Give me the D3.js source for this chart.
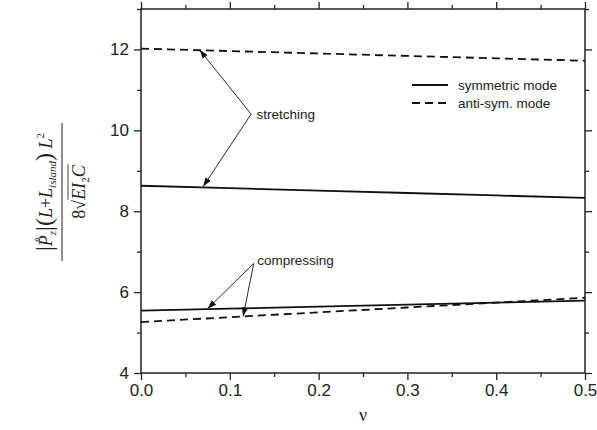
<!DOCTYPE html>
<html>
<head>
<meta charset="utf-8">
<script src="https://cdn.jsdelivr.net/npm/d3@7"></script>
<style>
  body { margin: 0; background: #fff; }
  text { font-family: "Liberation Sans", Arial, sans-serif; fill: #222; }
</style>
</head>
<body>
<div class="chart"></div>
<script>
// data
var nu = [0, 0.1, 0.2, 0.3, 0.4, 0.5];
var symStretch   = [8.63, 8.57, 8.51, 8.45, 8.39, 8.33];
var antiStretch  = [12.02, 11.96, 11.90, 11.84, 11.78, 11.72];
var symCompress  = [5.54, 5.59, 5.64, 5.69, 5.74, 5.79];
var antiCompress = [5.26, 5.38, 5.50, 5.62, 5.74, 5.86];

var xTicks = [0, 0.1, 0.2, 0.3, 0.4, 0.5];
var xMinor = [0.05, 0.15, 0.25, 0.35, 0.45];
var yTicks = [4, 6, 8, 10, 12];
var yMinor = [5, 7, 9, 11, 13];

var legendLabels = ["symmetric mode", "anti-sym. mode"];

// annotation anchors in data units: label position, arrow tips
var stretchLabel = {x: 0.130, y: 10.28, text: "stretching", from: [0.124, 10.40],
                    tips: [[0.066, 11.99], [0.070, 8.61]]};
var compressLabel = {x: 0.131, y: 6.68, text: "compressing", from: [0.127, 6.71],
                     tips: [[0.075, 5.59], [0.115, 5.40]]};

var W = 597, H = 430;
var margin = {top: 9, right: 12, bottom: 57, left: 141},
    width = W - margin.left - margin.right,
    height = H - margin.top - margin.bottom;

var svg = d3.select(".chart").append("svg")
    .attr("width", W).attr("height", H);

var defs = svg.append("defs");
defs.append("marker")
    .attr("id", "arr")
    .attr("viewBox", "0 0 10 10")
    .attr("refX", 10).attr("refY", 5)
    .attr("markerWidth", 9).attr("markerHeight", 9)
    .attr("markerUnits", "userSpaceOnUse")
    .attr("orient", "auto")
  .append("path")
    .attr("d", "M0,1.5 L10,5 L0,8.5 Z")
    .attr("fill", "#111");

var g = svg.append("g")
    .attr("transform", "translate(" + margin.left + "," + margin.top + ")");

var x = d3.scaleLinear().domain([0, 0.5]).range([0, width]);
var y = d3.scaleLinear().domain([4, 13]).range([height, 0]);

function styleAxis(sel) {
  sel.select(".domain").remove();
  sel.selectAll(".tick line").attr("stroke", "#222").attr("stroke-width", 1.3);
  sel.selectAll(".tick text").attr("font-size", "17px").attr("fill", "#222")
     .style("font-family", "'Liberation Sans', Arial, sans-serif");
}

// major + minor ticks
g.append("g").attr("transform", "translate(0," + height + ")")
  .call(d3.axisBottom(x).tickValues(xTicks).tickFormat(d3.format(".1f")).tickSize(7).tickPadding(4))
  .call(styleAxis);
g.append("g").attr("transform", "translate(0," + height + ")")
  .call(d3.axisBottom(x).tickValues(xMinor).tickFormat("").tickSize(4))
  .call(styleAxis);
g.append("g")
  .call(d3.axisTop(x).tickValues(xTicks).tickFormat("").tickSize(7))
  .call(styleAxis);
g.append("g")
  .call(d3.axisTop(x).tickValues(xMinor).tickFormat("").tickSize(4))
  .call(styleAxis);

g.append("g")
  .call(d3.axisLeft(y).tickValues(yTicks).tickFormat(d3.format("d")).tickSize(7).tickPadding(5))
  .call(styleAxis);
g.append("g")
  .call(d3.axisLeft(y).tickValues(yMinor).tickFormat("").tickSize(4))
  .call(styleAxis);
g.append("g").attr("transform", "translate(" + width + ",0)")
  .call(d3.axisRight(y).tickValues(yTicks).tickFormat("").tickSize(7))
  .call(styleAxis);
g.append("g").attr("transform", "translate(" + width + ",0)")
  .call(d3.axisRight(y).tickValues(yMinor).tickFormat("").tickSize(4))
  .call(styleAxis);

// frame
g.append("rect")
  .attr("width", width).attr("height", height)
  .attr("fill", "none").attr("stroke", "#222").attr("stroke-width", 1.5);

// curves
var line = d3.line()
  .x(function(d) { return x(d[0]); })
  .y(function(d) { return y(d[1]); });

function series(vals) { return nu.map(function(v, i) { return [v, vals[i]]; }); }

var curves = [
  {vals: symStretch, dash: null},
  {vals: antiStretch, dash: "8,5"},
  {vals: symCompress, dash: null},
  {vals: antiCompress, dash: "8,5"}
];
curves.forEach(function(c) {
  g.append("path")
    .attr("d", line(series(c.vals)))
    .attr("fill", "none")
    .attr("stroke", "#111")
    .attr("stroke-width", 1.8)
    .attr("stroke-dasharray", c.dash);
});

// annotations
[stretchLabel, compressLabel].forEach(function(a) {
  a.tips.forEach(function(t) {
    g.append("line")
      .attr("x1", x(a.from[0])).attr("y1", y(a.from[1]))
      .attr("x2", x(t[0])).attr("y2", y(t[1]))
      .attr("stroke", "#111").attr("stroke-width", 0.9)
      .attr("marker-end", "url(#arr)");
  });
  g.append("text")
    .attr("x", x(a.x)).attr("y", y(a.y))
    .attr("font-size", "13.5px")
    .text(a.text);
});

// legend
var leg = g.append("g").attr("transform", "translate(271,76)");
legendLabels.forEach(function(lab, i) {
  leg.append("line")
    .attr("x1", 0).attr("x2", 36)
    .attr("y1", i * 18).attr("y2", i * 18)
    .attr("stroke", "#111").attr("stroke-width", 1.8)
    .attr("stroke-dasharray", i === 1 ? "8,5" : null);
  leg.append("text")
    .attr("x", 46).attr("y", i * 18 + 5)
    .attr("font-size", "13.5px")
    .text(lab);
});

// x label
svg.append("text")
  .attr("x", margin.left + width / 2).attr("y", 421)
  .attr("text-anchor", "middle")
  .attr("font-size", "18px")
  .style("font-family", "'Liberation Serif', serif")
  .text("\u03bd");

// y label: fraction, rotated
var yl = svg.append("g").attr("transform", "translate(0,192) rotate(-90)")
  .style("font-family", "'Liberation Serif', 'DejaVu Serif', serif");

var num = yl.append("text")
  .attr("x", 0).attr("y", 52)
  .attr("text-anchor", "middle")
  .attr("font-size", "18px")
  .style("font-family", "'Liberation Serif', 'DejaVu Serif', serif")
  .attr("fill", "#444");
num.append("tspan").attr("font-size", "24px").text("|");
num.append("tspan").attr("font-style", "italic").text("P\u030A");
num.append("tspan").attr("font-size", "11px").attr("font-style", "italic").attr("dy", 4).text("z");
num.append("tspan").attr("font-size", "24px").attr("dy", -4).text("|");
num.append("tspan").attr("font-size", "24px").text("(");
num.append("tspan").attr("font-style", "italic").text("L");
num.append("tspan").text("+");
num.append("tspan").attr("font-style", "italic").text("L");
num.append("tspan").attr("font-size", "11px").attr("font-style", "italic").attr("dy", 4).text("island");
num.append("tspan").attr("font-size", "24px").attr("dy", -4).text(")");
num.append("tspan").attr("font-style", "italic").text(" L");
num.append("tspan").attr("font-size", "11px").attr("dy", -8).text("2");

yl.append("line")
  .attr("x1", -69).attr("x2", 69)
  .attr("y1", 62).attr("y2", 62)
  .attr("stroke", "#444").attr("stroke-width", 1.2);

var den = yl.append("text")
  .attr("x", 0).attr("y", 85)
  .attr("text-anchor", "middle")
  .attr("font-size", "18px")
  .style("font-family", "'Liberation Serif', 'DejaVu Serif', serif")
  .attr("fill", "#444");
den.append("tspan").text("8\u221A");
den.append("tspan").attr("font-style", "italic").text("EI");
den.append("tspan").attr("font-size", "11px").attr("dy", 4).text("2");
den.append("tspan").attr("font-style", "italic").attr("dy", -4).text("C");

// overline of the root, sized from the rendered text
var bb = den.node().getBBox();
yl.append("line")
  .attr("x1", bb.x + 19).attr("x2", bb.x + bb.width)
  .attr("y1", 68).attr("y2", 68)
  .attr("stroke", "#444").attr("stroke-width", 1);
</script>
</body>
</html>
